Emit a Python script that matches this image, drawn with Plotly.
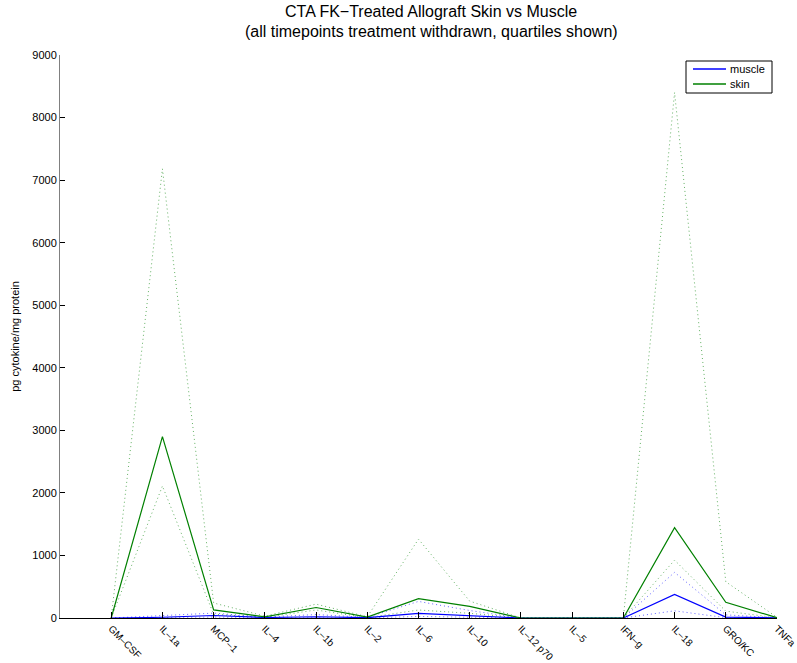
import plotly.graph_objects as go

categories = ["GM–CSF", "IL–1a", "MCP–1", "IL–4", "IL–1b", "IL–2", "IL–6", "IL–10",
              "IL–12 p70", "IL–5", "IFN–g", "IL–18", "GRO/KC", "TNFa"]

muscle_median = [0, 12, 40, 8, 20, 5, 75, 37, 0, 0, 0, 378, 15, 2]
muscle_q3 = [0, 38, 78, 15, 55, 10, 265, 120, 0, 0, 0, 730, 50, 5]
muscle_q1 = [0, 4, 15, 3, 8, 2, 25, 12, 0, 0, 0, 115, 5, 1]

skin_median = [0, 2900, 130, 18, 168, 15, 310, 185, 0, 0, 0, 1445, 252, 5]
skin_q3 = [0, 7180, 240, 30, 222, 20, 1260, 270, 0, 0, 0, 8400, 580, 10]
skin_q1 = [0, 2110, 60, 10, 128, 5, 128, 75, 0, 0, 0, 925, 110, 2]

y_ticks = list(range(0, 9001, 1000))
series_names = ["muscle", "skin"]

x = list(range(1, len(categories) + 1))
BLUE = "#0000ff"
GREEN = "#008000"
FONT = "Liberation Sans, Arial, Helvetica, sans-serif"

# plot area in pixels
L, R, T, B = 60, 777, 55, 618
W, H = 797, 663


def px(xp):
    return (xp - L) / (R - L)


def py(yp):
    return (B - yp) / (B - T)


fig = go.Figure()
for q, color in [(muscle_q3, BLUE), (muscle_q1, BLUE), (skin_q3, GREEN), (skin_q1, GREEN)]:
    fig.add_trace(go.Scatter(x=x, y=q, mode="lines", showlegend=False, opacity=0.6,
                             line=dict(color=color, width=1, dash="1px,3px"), hoverinfo="skip"))
fig.add_trace(go.Scatter(x=x, y=muscle_median, mode="lines", name=series_names[0],
                         showlegend=False, line=dict(color=BLUE, width=1.2)))
fig.add_trace(go.Scatter(x=x, y=skin_median, mode="lines", name=series_names[1],
                         showlegend=False, line=dict(color=GREEN, width=1.2)))

shapes = [
    dict(type="rect", xref="paper", yref="paper", x0=px(686), x1=px(772), y0=py(93), y1=py(61),
         line=dict(color="black", width=1), fillcolor="white", layer="above"),
]
annotations = [
    dict(text="CTA FK−Treated Allograft Skin vs Muscle", xref="paper", yref="paper",
         x=px(431), y=py(12), xanchor="center", yanchor="middle", showarrow=False,
         font=dict(size=16, family=FONT)),
    dict(text="(all timepoints treatment withdrawn, quartiles shown)", xref="paper", yref="paper",
         x=px(431), y=py(32), xanchor="center", yanchor="middle", showarrow=False,
         font=dict(size=16, family=FONT)),
]
for i, (name, color) in enumerate(zip(series_names, [BLUE, GREEN])):
    yy = 69 + 15 * i
    shapes.append(dict(type="line", xref="paper", yref="paper", x0=px(693), x1=px(726),
                       y0=py(yy), y1=py(yy), line=dict(color=color, width=1.3), layer="above"))
    annotations.append(dict(text=name, xref="paper", yref="paper", x=px(728), y=py(yy),
                            xanchor="left", yanchor="middle", showarrow=False,
                            font=dict(size=11, family=FONT)))

fig.update_layout(
    width=W, height=H,
    margin=dict(l=L, r=W - R, t=T, b=H - B),
    paper_bgcolor="white", plot_bgcolor="white",
    font=dict(family=FONT, color="black", size=11),
    xaxis=dict(range=[0, 14], tickmode="array", tickvals=x, ticktext=categories,
               tickangle=45, ticks="inside", ticklen=6, tickcolor="black",
               ticklabeloverflow="allow",
               showline=True, linecolor="black", linewidth=1, automargin=False,
               showgrid=False, zeroline=False, tickfont=dict(size=10)),
    yaxis=dict(range=[0, 9000], tickmode="array", tickvals=y_ticks,
               ticks="inside", ticklen=5, tickcolor="black",
               showline=True, linecolor="#808080", linewidth=1, automargin=False,
               showgrid=False, zeroline=False, tickfont=dict(size=11),
               title=dict(text="pg cytokine/mg protein", font=dict(size=11), standoff=10)),
    shapes=shapes,
    annotations=annotations,
    showlegend=False,
)

fig.write_html("out.html")
